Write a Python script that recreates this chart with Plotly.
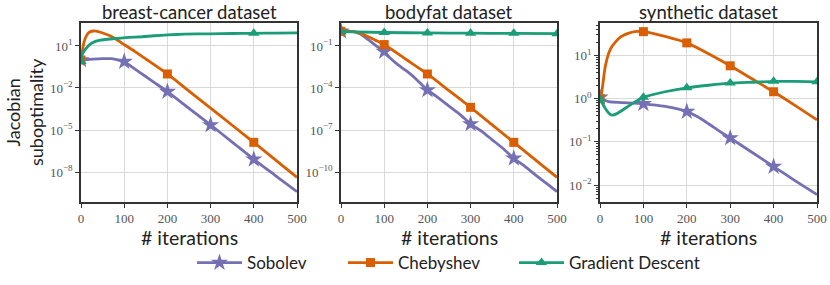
import numpy as np
import plotly.graph_objects as go

# ---------------- data (log10 of Jacobian suboptimality) ----------------
titles = ["breast-cancer dataset", "bodyfat dataset", "synthetic dataset"]
series_names = ["Sobolev", "Chebyshev", "Gradient Descent"]

# breast-cancer
bc_sob_x = [0, 10, 20, 40, 60, 70, 80, 90, 100, 125, 150, 175, 200, 250, 300, 350, 400, 450, 500]
bc_sob_y = [0.0, 0.02, 0.05, 0.08, 0.1, 0.1, 0.05, -0.03, -0.12, -0.65, -1.18, -1.72, -2.26, -3.45, -4.64, -5.86, -7.09, -8.25, -9.4]
bc_che_x = [0, 3, 6, 10, 15, 20, 30, 40, 50, 60, 75, 100, 125, 150, 175, 200, 250, 300, 350, 400, 450, 500]
bc_che_y = [0.0, 0.6, 1.15, 1.55, 1.85, 2.0, 2.07, 2.03, 1.93, 1.82, 1.6, 1.1, 0.6, 0.07, -0.46, -1.0, -2.22, -3.44, -4.66, -5.88, -7.13, -8.38]
bc_gd_x = [0, 3, 9, 20, 32, 45, 62, 85, 110, 141, 170, 201, 240, 300, 350, 400, 450, 500]
bc_gd_y = [-0.1, 0.4, 0.71, 1.1, 1.31, 1.41, 1.48, 1.55, 1.61, 1.66, 1.73, 1.79, 1.84, 1.87, 1.89, 1.9, 1.92, 1.93]

# bodyfat
bf_sob_x = [0, 15, 30, 45, 63, 80, 100, 115, 130, 150, 165, 180, 200, 220, 250, 275, 300, 325, 350, 375, 400, 425, 450, 475, 500]
bf_sob_y = [0.05, 0.06, 0.02, -0.15, -0.55, -0.95, -1.4, -1.9, -2.3, -2.75, -3.12, -3.55, -4.14, -4.58, -5.3, -5.88, -6.57, -7.08, -7.7, -8.32, -9.02, -9.58, -10.2, -10.8, -11.4]
bf_che_x = [0, 15, 30, 45, 63, 80, 100, 150, 200, 250, 300, 350, 400, 450, 500]
bf_che_y = [0.05, 0.06, 0.03, -0.1, -0.34, -0.6, -0.9, -1.95, -3.0, -4.19, -5.38, -6.63, -7.88, -9.13, -10.38]
bf_gd_x = [0, 100, 200, 300, 400, 500]
bf_gd_y = [0.02, -0.04, -0.07, -0.09, -0.1, -0.12]

# synthetic
sy_sob_x = [0, 20, 50, 100, 150, 200, 225, 250, 275, 300, 350, 400, 450, 500]
sy_sob_y = [0.03, -0.07, -0.09, -0.12, -0.18, -0.3, -0.42, -0.58, -0.75, -0.91, -1.24, -1.57, -1.9, -2.22]
sy_che_x = [0, 4, 8, 12, 20, 27, 46, 65, 80, 100, 150, 200, 250, 300, 350, 400, 450, 500]
sy_che_y = [0.0, 0.15, 0.45, 0.74, 1.05, 1.2, 1.42, 1.51, 1.55, 1.55, 1.44, 1.29, 1.04, 0.76, 0.46, 0.16, -0.16, -0.49]
sy_gd_x = [0, 5, 12, 20, 27, 40, 60, 80, 100, 150, 200, 250, 300, 350, 400, 450, 500]
sy_gd_y = [0.0, -0.1, -0.22, -0.33, -0.38, -0.34, -0.21, -0.08, 0.03, 0.16, 0.25, 0.31, 0.36, 0.38, 0.40, 0.40, 0.39]

# iterations carrying a marker, per panel and series
marks = [
    [[0, 100, 200, 300, 400], [0, 200, 400], [0, 200, 400]],
    [[0, 100, 200, 300, 400], [0, 100, 200, 300, 400], [0, 100, 200, 300, 400, 500]],
    [[0, 100, 200, 300, 400], [0, 100, 200, 300, 400], [0, 100, 200, 300, 400, 500]],
]

panels = [
    [(bc_sob_x, bc_sob_y), (bc_che_x, bc_che_y), (bc_gd_x, bc_gd_y)],
    [(bf_sob_x, bf_sob_y), (bf_che_x, bf_che_y), (bf_gd_x, bf_gd_y)],
    [(sy_sob_x, sy_sob_y), (sy_che_x, sy_che_y), (sy_gd_x, sy_gd_y)],
]

x_ticks = [0, 100, 200, 300, 400, 500]
y_tick_exps = [[1, -2, -5, -8], [-1, -4, -7, -10], [1, 0, -1, -2]]
y_ranges = [[-10.14, 2.64], [-12.14, 0.64], [-2.39, 1.75]]

colors = ["#7570b3", "#d95f02", "#1b9e77"]
symbols = ["star", "square", "triangle-up"]
msizes = [13, 9, 10]

# ---------------- figure ----------------
W, H = 830, 285
xdoms = [(81, 297), (341, 557), (600, 817)]
ytop, ybot = 23, 202
legend_left = [192, 343, 514]

fig = go.Figure()

def sup(e):
    s = str(e).replace("-", "\u2212")
    return "10<sup>" + s + "</sup>"

for p in range(3):
    xa = "x" if p == 0 else f"x{p+1}"
    ya = "y" if p == 0 else f"y{p+1}"
    for s in range(3):
        xs, ys = panels[p][s]
        vals = np.power(10.0, np.array(ys, dtype=float))
        fig.add_trace(go.Scatter(
            x=xs, y=vals, mode="lines", xaxis=xa, yaxis=ya,
            line=dict(color=colors[s], width=2.8, shape="spline", smoothing=0.6),
            showlegend=False, hoverinfo="skip"))
        mx = [x for x in xs if x in marks[p][s]]
        my = [v for x, v in zip(xs, vals) if x in marks[p][s]]
        fig.add_trace(go.Scatter(
            x=mx, y=my, mode="markers", xaxis=xa, yaxis=ya, cliponaxis=True,
            marker=dict(symbol=symbols[s], size=msizes[s], color=colors[s], line=dict(width=0)),
            showlegend=False, hoverinfo="skip"))

# legend-only entries, one legend box per series
legend_ids = ["legend", "legend2", "legend3"]
for s in range(3):
    fig.add_trace(go.Scatter(
        x=[None], y=[None], mode="lines+markers", name=series_names[s],
        line=dict(color=colors[s], width=2.8),
        marker=dict(symbol=symbols[s], size=msizes[s], color=colors[s]),
        showlegend=True, legend=legend_ids[s]))

layout = dict(
    template="none",
    width=W, height=H, margin=dict(l=0, r=0, t=0, b=0, autoexpand=False),
    paper_bgcolor="white", plot_bgcolor="white",
    showlegend=True,
)
for s in range(3):
    layout[legend_ids[s]] = dict(
        orientation="h", x=legend_left[s] / W, xanchor="left", y=1 - 263 / H, yanchor="middle",
        font=dict(family="Lato", size=17, color="#222"), itemwidth=45,
        bgcolor="rgba(0,0,0,0)", borderwidth=0)

tickfont = dict(family="Liberation Serif", size=13, color="#555")
for p in range(3):
    xk = "xaxis" if p == 0 else f"xaxis{p+1}"
    yk = "yaxis" if p == 0 else f"yaxis{p+1}"
    x0, x1 = xdoms[p]
    layout[xk] = dict(
        domain=[x0 / W, x1 / W], range=[0, 500], tickvals=x_ticks,
        ticktext=[str(v) for v in x_ticks], tickfont=tickfont, automargin=False,
        showgrid=True, gridcolor="#d9d9d9", gridwidth=1, zeroline=False,
        showline=True, linecolor="#333", linewidth=1.5, mirror=True,
        ticks="outside", ticklen=4, tickcolor="#333",
        anchor="y" if p == 0 else f"y{p+1}")
    tv = [10.0 ** e for e in y_tick_exps[p]]
    ydict = dict(
        type="log", domain=[1 - ybot / H, 1 - ytop / H], range=y_ranges[p],
        tickvals=tv, ticktext=[sup(e) for e in y_tick_exps[p]], tickfont=tickfont,
        automargin=False,
        showgrid=True, gridcolor="#d9d9d9", gridwidth=1, zeroline=False,
        showline=True, linecolor="#333", linewidth=1.5, mirror=True,
        ticks="outside", ticklen=4, tickcolor="#333",
        anchor="x" if p == 0 else f"x{p+1}")
    if p == 2:
        minor_vals = [m * 10.0 ** k for k in range(-3, 2) for m in range(2, 10)]
        ydict["minor"] = dict(tickvals=minor_vals, ticks="outside", ticklen=2.5,
                              tickcolor="#333", showgrid=False)
    layout[yk] = ydict

annotations = []
for p in range(3):
    x0, x1 = xdoms[p]
    annotations.append(dict(text=titles[p], x=(x0 + x1) / 2 / W, y=1 - 12 / H,
                            xref="paper", yref="paper", xanchor="center", yanchor="middle",
                            showarrow=False, font=dict(family="Lato", size=18.5, color="#222")))
    annotations.append(dict(text="# iterations", x=(x0 + x1) / 2 / W, y=1 - 237 / H,
                            xref="paper", yref="paper", xanchor="center", yanchor="middle",
                            showarrow=False, font=dict(family="Lato", size=19.5, color="#222")))
annotations.append(dict(text="Jacobian<br>suboptimality", x=24 / W, y=1 - 112 / H,
                        xref="paper", yref="paper", xanchor="center", yanchor="middle",
                        textangle=-90, showarrow=False,
                        font=dict(family="Lato", size=18, color="#222")))
layout["annotations"] = annotations

fig.update_layout(**layout)
fig.write_html("out.html", config={"displayModeBar": False},
               post_script="document.body.style.margin='0';document.body.style.overflow='hidden';")
